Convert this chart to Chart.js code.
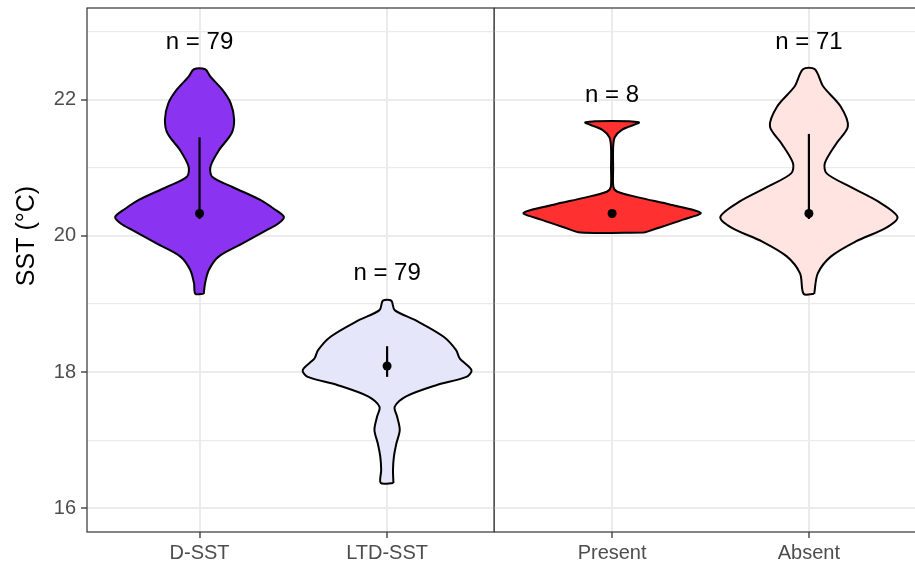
<!DOCTYPE html>
<html>
<head>
<meta charset="utf-8">
<script src="https://cdn.jsdelivr.net/npm/chart.js@4.4.1/dist/chart.umd.min.js"></script>
<style>
  html, body { margin: 0; padding: 0; background: #fff; overflow: hidden; width: 915px; height: 567px; }
  canvas { position: absolute; top: 0; }
  #left { left: 0; }
  #right { left: 494px; }
</style>
</head>
<body>
<canvas id="left" width="495" height="567"></canvas>
<canvas id="right" width="440" height="567"></canvas>
<script>
// groups and summary values
const categories = ['D-SST', 'LTD-SST', 'Present', 'Absent'];
const nObs = [79, 79, 8, 71];
const medianSst = [20.33, 18.09, 20.33, 20.33];
const lowerSst = [20.25, 17.93, 20.28, 20.25];
const upperSst = [21.45, 18.38, 20.38, 21.5];
const majorTicks = [16, 18, 20, 22];
const minorTicks = [17, 19, 21, 23];

// violin outlines: SST levels (bottom -> top) and relative half widths
const dSstLevels = [19.15, 19.3, 19.5, 19.7, 19.89, 20.09, 20.18, 20.28, 20.4, 20.53, 20.72, 20.87, 21.02, 21.26, 21.51, 21.71, 21.95, 22.15, 22.34, 22.45];
const dSstWidths = [0.05, 0.065, 0.11, 0.23, 0.51, 0.8, 0.93, 1.0, 0.88, 0.72, 0.39, 0.15, 0.13, 0.23, 0.38, 0.41, 0.37, 0.27, 0.13, 0.067];
const ltdLevels = [16.37, 16.56, 16.75, 16.95, 17.15, 17.34, 17.49, 17.64, 17.81, 17.93, 18.03, 18.2, 18.32, 18.52, 18.76, 18.91, 19.05];
const ltdWidths = [0.075, 0.07, 0.08, 0.11, 0.15, 0.12, 0.09, 0.22, 0.59, 0.94, 1.0, 0.86, 0.82, 0.67, 0.34, 0.09, 0.05];
const presentLevels = [20.05, 20.12, 20.24, 20.34, 20.46, 20.56, 20.65, 20.72, 21.0, 21.3, 21.45, 21.56, 21.67];
const presentWidths = [0.36, 0.53, 0.8, 1.0, 0.66, 0.32, 0.06, 0.015, 0.012, 0.012, 0.03, 0.11, 0.3];
const absentLevels = [19.15, 19.45, 19.7, 19.92, 20.12, 20.28, 20.5, 20.72, 20.92, 21.07, 21.36, 21.61, 21.9, 22.2, 22.45];
const absentWidths = [0.06, 0.1, 0.25, 0.53, 0.87, 1.0, 0.79, 0.47, 0.2, 0.18, 0.31, 0.44, 0.36, 0.16, 0.067];

const levels = [dSstLevels, ltdLevels, presentLevels, absentLevels];
const widths = [dSstWidths, ltdWidths, presentWidths, absentWidths];
const fills = ['#8A33F0', '#E6E6FA', '#FF3030', '#FFE4E1'];

Chart.defaults.font.family = "'Liberation Sans', Arial, sans-serif";
Chart.defaults.animation = false;

const frame = {
  id: 'frame',
  afterDatasetsDraw(chart) {
    const { ctx, chartArea: a } = chart;
    ctx.save();
    ctx.strokeStyle = '#333';
    ctx.lineWidth = 1.2;
    ctx.strokeRect(a.left, a.top, a.right - a.left, a.bottom - a.top);
    ctx.restore();
  }
};

function nLabels(from) {
  return {
    id: 'nLabels',
    afterDatasetsDraw(chart) {
      const { ctx, scales } = chart;
      ctx.save();
      ctx.fillStyle = '#000';
      ctx.font = "24px 'Liberation Sans', Arial, sans-serif";
      ctx.textAlign = 'center';
      ctx.textBaseline = 'middle';
      for (let k = 0; k < 2; k++) {
        const i = from + k;
        const top = Math.max(...levels[i]);
        ctx.fillText('n = ' + nObs[i], scales.x.getPixelForValue(k + 1), scales.y.getPixelForValue(top + 0.4));
      }
      ctx.restore();
    }
  };
}

const yTitle = {
  id: 'yTitle',
  afterDraw(chart) {
    const { ctx } = chart;
    ctx.save();
    ctx.translate(27, 236);
    ctx.rotate(-Math.PI / 2);
    ctx.fillStyle = '#000';
    ctx.font = "25px 'Liberation Sans', Arial, sans-serif";
    ctx.textAlign = 'center';
    ctx.textBaseline = 'middle';
    ctx.fillText('SST (°C)', 0, 0);
    ctx.restore();
  }
};

function noPad(s) {
  s.paddingTop = 0; s.paddingBottom = 0; s.paddingLeft = 0; s.paddingRight = 0;
}

function panel(id, from, showY, xMin, xMax) {
  const datasets = [];
  for (let k = 0; k < 2; k++) {
    const i = from + k, cx = k + 1;
    const right = levels[i].map((v, j) => ({ x: cx + widths[i][j] * 0.45, y: v }));
    const left = levels[i].map((v, j) => ({ x: cx - widths[i][j] * 0.45, y: v })).reverse();
    datasets.push({
      data: right.concat(left, [right[0]]),
      showLine: true, fill: 'shape', tension: 0.3, order: 3,
      backgroundColor: fills[i], borderColor: '#000', borderWidth: 2,
      pointRadius: 0
    });
    datasets.push({
      data: [{ x: cx, y: lowerSst[i] }, { x: cx, y: upperSst[i] }],
      showLine: true, order: 2, borderColor: '#000', borderWidth: 2.2, pointRadius: 0
    });
    datasets.push({
      data: [{ x: cx, y: medianSst[i] }], order: 1,
      pointRadius: 4.5, backgroundColor: '#000', borderWidth: 0
    });
  }

  const plugins = [frame, nLabels(from)];
  if (showY) plugins.push(yTitle);

  return new Chart(document.getElementById(id), {
    type: 'scatter',
    data: { datasets },
    options: {
      responsive: false,
      layout: { autoPadding: false, padding: { top: 8, right: showY ? 1 : 7, left: 0, bottom: 0 } },
      plugins: { legend: { display: false }, tooltip: { enabled: false } },
      scales: {
        x: {
          type: 'linear', min: xMin, max: xMax,
          afterBuildTicks: s => { s.ticks = [{ value: 1 }, { value: 2 }]; },
          afterFit: s => { s.height = 35; noPad(s); },
          ticks: {
            callback: v => categories[from + v - 1],
            color: '#4D4D4D', font: { size: 20 }, padding: 3,
            autoSkip: false, maxRotation: 0
          },
          grid: { color: '#EBEBEB', lineWidth: 2, tickLength: 6, tickColor: '#333', tickWidth: 1.3 },
          border: { display: false }
        },
        y: {
          type: 'linear', min: 15.65, max: 23.35,
          afterBuildTicks: s => {
            s.ticks = majorTicks.concat(minorTicks).sort((a, b) => a - b).map(v => ({ value: v }));
          },
          afterFit: s => { s.width = showY ? 87 : 0; noPad(s); },
          ticks: {
            display: showY,
            callback: v => majorTicks.includes(v) ? String(v) : '',
            color: '#4D4D4D', font: { size: 20 }, padding: 5
          },
          grid: {
            color: '#EBEBEB',
            lineWidth: c => majorTicks.includes(c.tick.value) ? 2 : 1.2,
            drawTicks: showY, tickLength: 6,
            tickColor: c => majorTicks.includes(c.tick.value) ? '#333' : 'rgba(0,0,0,0)',
            tickWidth: 1.3
          },
          border: { display: false }
        }
      }
    },
    plugins
  });
}

panel('left', 0, true, 0.4, 2.57);
panel('right', 2, false, 0.4, 2.6);
</script>
</body>
</html>
